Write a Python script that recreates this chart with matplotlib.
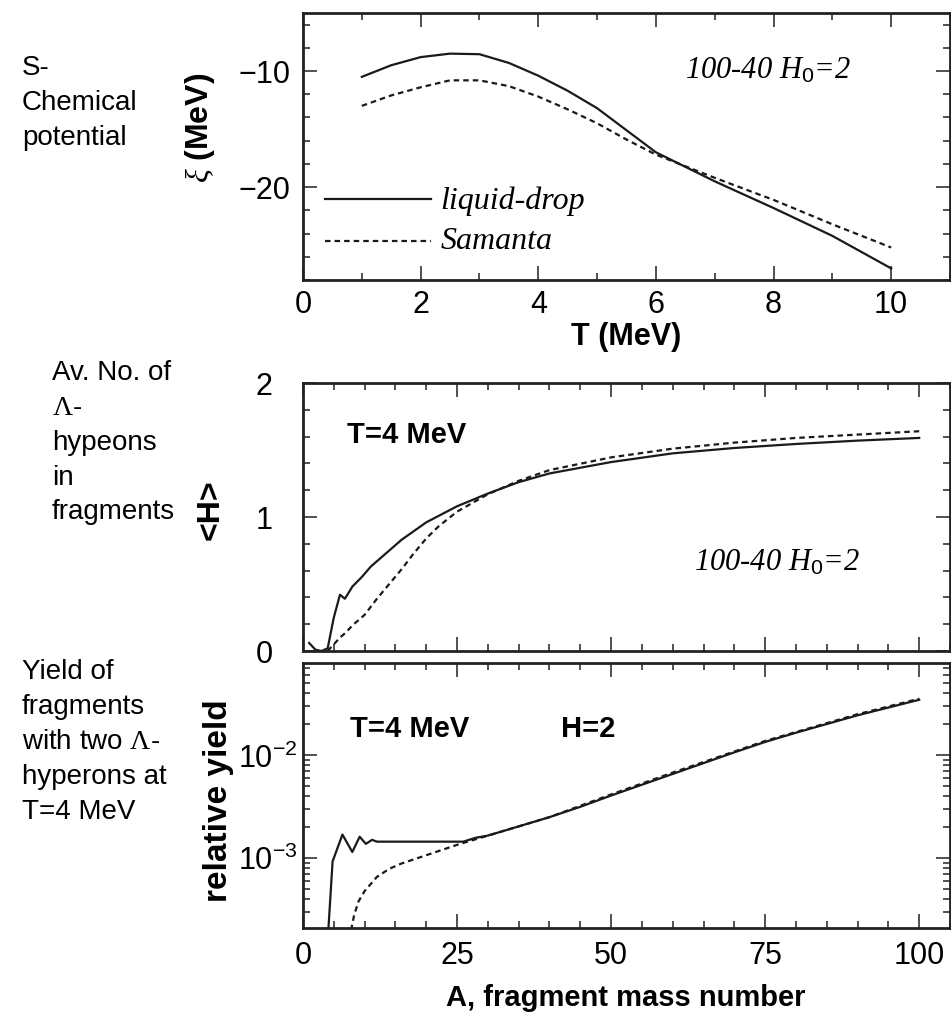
import matplotlib
matplotlib.use("Agg")
import matplotlib.pyplot as plt
from matplotlib.ticker import MultipleLocator, LogLocator, NullFormatter, FixedLocator

plt.rcParams['font.family'] = ['Liberation Sans', 'DejaVu Sans']
plt.rcParams['mathtext.fontset'] = 'custom'
plt.rcParams['mathtext.rm'] = 'Liberation Sans'
plt.rcParams['mathtext.it'] = 'Liberation Serif:italic'
plt.rcParams['mathtext.sf'] = 'Liberation Serif'
plt.rcParams['mathtext.bf'] = 'Liberation Sans:bold'

# ---------------- data ----------------
# top panel: chemical potential vs temperature
T_ld = [1, 1.5, 2, 2.5, 3, 3.5, 4, 4.5, 5, 5.5, 6, 7, 8, 9, 10]
xi_ld = [-10.5, -9.5, -8.8, -8.5, -8.55, -9.3, -10.4, -11.7, -13.2, -15.1, -17.0, -19.5, -21.8, -24.2, -27.0]
T_sam = [1, 1.5, 2, 2.5, 3, 3.5, 4, 4.5, 5, 5.5, 6, 7, 8, 9, 10]
xi_sam = [-13.0, -12.1, -11.4, -10.8, -10.8, -11.3, -12.2, -13.3, -14.5, -15.9, -17.2, -19.2, -21.1, -23.2, -25.2]

# middle panel: average number of hyperons
A_h_ld = [1, 2, 3, 4, 5, 6, 6.8, 8, 9.5, 11, 12, 14, 16, 20, 25, 30, 35, 40, 50, 60, 70, 80, 90, 100]
H_ld = [0.06, 0.01, 0.0, 0.02, 0.25, 0.42, 0.39, 0.48, 0.55, 0.63, 0.67, 0.75, 0.83, 0.96, 1.08, 1.175, 1.26, 1.325,
        1.41, 1.475, 1.515, 1.545, 1.57, 1.59]
A_h_sam = [4, 5, 6, 7, 8, 10, 12, 14, 16, 18, 20, 22, 25, 30, 35, 40, 50, 60, 70, 80, 90, 100]
H_sam = [0.0, 0.05, 0.1, 0.14, 0.19, 0.27, 0.39, 0.5, 0.61, 0.73, 0.84, 0.93, 1.04, 1.17, 1.27, 1.35, 1.445, 1.51,
         1.555, 1.59, 1.615, 1.64]

# bottom panel: relative yield of fragments with H=2
A_y_ld = [3.8, 4.8, 6.4, 8, 9.2, 10.2, 11.2, 12, 26, 28, 30, 35, 40, 45, 50, 60, 70, 75, 80, 90, 100]
Y_ld = [1.0e-4, 9.3e-4, 1.70e-3, 1.15e-3, 1.62e-3, 1.38e-3, 1.51e-3, 1.45e-3, 1.45e-3, 1.58e-3, 1.66e-3,
        2.04e-3, 2.51e-3, 3.16e-3, 4.07e-3, 6.6e-3, 1.07e-2, 1.35e-2, 1.66e-2, 2.45e-2, 3.47e-2]
A_y_sam = [7.8, 8.3, 9, 10, 12, 14, 16, 20, 25, 30, 35, 40, 50, 60, 75, 90, 100]
Y_sam = [2.0e-4, 2.8e-4, 3.8e-4, 4.8e-4, 6.6e-4, 7.9e-4, 8.9e-4, 1.07e-3, 1.35e-3, 1.66e-3, 2.04e-3, 2.51e-3,
         4.17e-3, 6.8e-3, 1.38e-2, 2.51e-2, 3.55e-2]

legend_labels = ['liquid-drop', 'Samanta']
top_xticks = [0, 2, 4, 6, 8, 10]
top_yticks = [-10, -20]
mid_yticks = [0, 1, 2]
bot_xticks = [0, 25, 50, 75, 100]

# ---------------- figure ----------------
W, H = 951, 1021
fig = plt.figure(figsize=(W / 100, H / 100), dpi=100)

def ax_rect(l, t, r, b):
    return [l / W, 1 - b / H, (r - l) / W, (b - t) / H]

ax1 = fig.add_axes(ax_rect(303, 13, 950, 280))
ax2 = fig.add_axes(ax_rect(303, 383, 950, 651))
ax3 = fig.add_axes(ax_rect(303, 663, 950, 928))

fcol = '#222222'
lcol = '#1a1a1a'
lw = 1.6
dash = (0, (2.5, 1.8))

for ax in (ax1, ax2, ax3):
    for s in ax.spines.values():
        s.set_linewidth(2.0)
        s.set_color(fcol)
    ax.tick_params(which='both', direction='in', top=True, right=True, color=fcol, width=1.1,
                   labelsize=22, labelcolor='black')
    ax.tick_params(which='major', length=10)
    ax.tick_params(which='minor', length=5)

# top
ax1.plot(T_ld, xi_ld, color=lcol, lw=lw)
ax1.plot(T_sam, xi_sam, color=lcol, lw=lw, linestyle=dash)
ax1.set_xlim(0, 11)
ax1.set_ylim(-28, -5)
ax1.xaxis.set_major_locator(FixedLocator(top_xticks))
ax1.xaxis.set_minor_locator(MultipleLocator(1))
ax1.yaxis.set_major_locator(FixedLocator(top_yticks))
ax1.yaxis.set_minor_locator(MultipleLocator(2))
ax1.set_yticklabels(['\u221210', '\u221220'])
ax1.tick_params(axis='y', which='major', pad=9)
ax1.tick_params(axis='x', which='major', pad=7)
# legend drawn by hand inside the axes
ax1.plot([0.37, 2.17], [-21.0, -21.0], color=lcol, lw=lw)
ax1.plot([0.37, 2.17], [-24.6, -24.6], color=lcol, lw=lw, linestyle=dash)
ax1.text(2.34, -21.9, legend_labels[0], family='Liberation Serif', style='italic', fontsize=23, va='baseline')
ax1.text(2.34, -25.3, legend_labels[1], family='Liberation Serif', style='italic', fontsize=23, va='baseline')
ax1.text(6.5, -10.6, r'100-40 $H_{\mathit{0}}$=2', family='Liberation Serif', style='italic', fontsize=22,
         va='baseline')
ax1.set_xlabel('T (MeV)', fontsize=22, fontweight='bold', labelpad=2)

# middle
ax2.plot(A_h_ld, H_ld, color=lcol, lw=lw)
ax2.plot(A_h_sam, H_sam, color=lcol, lw=lw, linestyle=dash)
ax2.set_xlim(0, 105)
ax2.set_ylim(0, 2)
ax2.xaxis.set_major_locator(FixedLocator(bot_xticks))
ax2.xaxis.set_minor_locator(MultipleLocator(5))
ax2.yaxis.set_major_locator(FixedLocator(mid_yticks))
ax2.yaxis.set_minor_locator(MultipleLocator(0.2))
ax2.tick_params(labelbottom=False)
ax2.tick_params(axis='y', which='major', pad=22)
ax2.text(7.1, 1.55, 'T=4 MeV', fontsize=21, fontweight='bold', va='baseline')
ax2.text(63.5, 0.60, r'100-40 $H_{\mathit{0}}$=2', family='Liberation Serif', style='italic', fontsize=22,
         va='baseline')

# bottom
ax3.plot(A_y_ld, Y_ld, color=lcol, lw=lw)
ax3.plot(A_y_sam, Y_sam, color=lcol, lw=lw, linestyle=dash)
ax3.set_yscale('log')
ax3.set_xlim(0, 105)
ax3.set_ylim(2.1e-4, 7.9e-2)
ax3.xaxis.set_major_locator(FixedLocator(bot_xticks))
ax3.xaxis.set_minor_locator(MultipleLocator(5))
ax3.yaxis.set_major_locator(FixedLocator([1e-3, 1e-2]))
ax3.yaxis.set_minor_locator(LogLocator(base=10, subs=range(2, 10)))
ax3.yaxis.set_minor_formatter(NullFormatter())
ax3.set_yticklabels([r'$\mathregular{10^{-3}}$', r'$\mathregular{10^{-2}}$'])
ax3.tick_params(axis='y', which='major', pad=4)
ax3.tick_params(axis='x', which='major', pad=9)
ax3.text(7.6, 0.0150, 'T=4 MeV', fontsize=21, fontweight='bold', va='baseline')
ax3.text(41.9, 0.0150, 'H=2', fontsize=21, fontweight='bold', va='baseline')

# axis labels placed in figure pixels
def ftext(x, y, s, **kw):
    fig.text(x / W, 1 - y / H, s, **kw)

ftext(626, 998, 'A, fragment mass number', fontsize=21, fontweight='bold', ha='center', va='center')
ftext(200, 128, r'$\xi$ (MeV)', rotation=90, fontsize=23, fontweight='bold', ha='center', va='center')
ftext(211, 510, '<H>', rotation=90, fontsize=23, fontweight='bold', ha='center', va='center')
ftext(218, 801, 'relative yield', rotation=90, fontsize=24, fontweight='bold', ha='center', va='center')

# left annotations
left_blocks = [
    (22, [75, 110, 145], ['S-', 'Chemical', 'potential']),
    (52, [380, 415, 450, 485, 519], ['Av. No. of', r'$\mathsf{\Lambda}$-', 'hypeons', 'in', 'fragments']),
    (22, [679, 714, 749, 784, 819], ['Yield of', 'fragments', r'with two $\mathsf{\Lambda}$-', 'hyperons at',
                                     'T=4 MeV']),
]
for x0, ys, lines in left_blocks:
    for y0, s in zip(ys, lines):
        ftext(x0, y0, s, fontsize=20, ha='left', va='baseline')

fig.savefig('out.png', dpi=100)
